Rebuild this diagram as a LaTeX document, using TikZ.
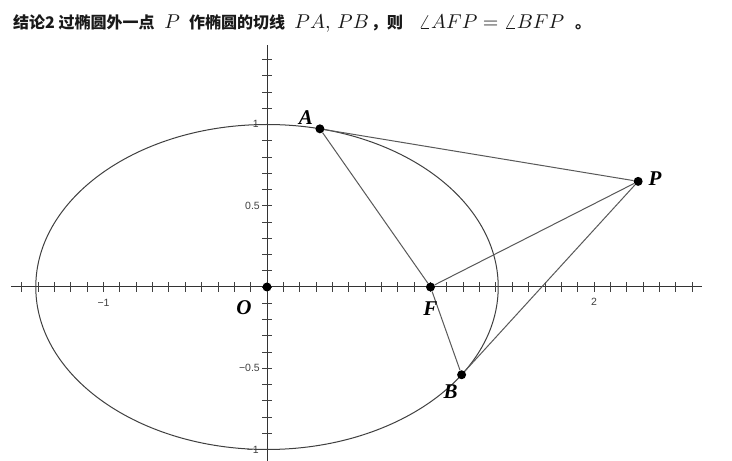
\documentclass[tikz,border=0pt]{standalone}
\usepackage{fontspec}
\newfontfamily\cjk{Noto Sans CJK SC}
\newfontfamily\lblfont{Liberation Serif}
\newfontfamily\tickfont{Liberation Sans}
\begin{document}
\begin{tikzpicture}[x=1pt,y=1pt,
  axisline/.style={draw=black!80, line width=1pt},
  tickline/.style={draw=black!75, line width=0.85pt},
  curve/.style={draw=black!75, line width=1pt},
  seg/.style={draw=black!65, line width=1pt},
  dot/.style={circle, fill=black, inner sep=0pt, minimum size=9pt},
  ptlabel/.style={font=\fontsize{21}{21}\selectfont\lblfont\bfseries\itshape, inner sep=0pt},
  ticklabel/.style={font=\fontsize{10.5}{11}\selectfont\tickfont, text=black!75, inner sep=0pt},
  ttxt/.style={anchor=base west, inner sep=0pt, text=black!90, font=\fontsize{16}{16}\selectfont\cjk\bfseries},
  tmath/.style={anchor=base west, inner sep=0pt, text=black!90, font=\fontsize{10}{10}\selectfont, scale=2}]
\useasboundingbox (0,0) rectangle (732,461);
\fill[white] (0,0) rectangle (732,461);
\node[ttxt] (t1) at (13,432.5) {结论2 过椭圆外一点};
\node[tmath] (t2) at (164,432.5) {$P$};
\node[ttxt] (t3) at (189,432.5) {作椭圆的切线};
\node[tmath] (t4) at (294,432.5) {$PA,\,PB$};
\node[ttxt] (t5) at (371,432.5) {，则};
\node[tmath] (t6) at (418,432.5) {$\angle AFP=\angle BFP$};
\node[ttxt] (t7) at (575,432.5) {。};
\begin{scope}[shift={(267,174)}, x=163.5pt, y=162.5pt]
  \draw[axisline] (-1.565,0) -- (2.66,0);
  \draw[axisline] (0,-1.08) -- (0,1.49);
  \foreach \i in {-15,...,26} \draw[tickline] (\i/10,0) ++(0,-5pt) -- ++(0,10pt);
  \foreach \i in {-10,...,14} \draw[tickline] (0,\i/10) ++(-5pt,0) -- ++(10pt,0);
  \node[ticklabel] (tm1) at ([yshift=-16pt]-1,0) {−1};
  \node[ticklabel] (t2x) at ([yshift=-15pt]2,0) {2};
  \node[ticklabel, anchor=east] (t05) at ([xshift=-7pt]0,0.5) {0.5};
  \node[ticklabel, anchor=east] (tm05) at ([xshift=-7pt]0,-0.5) {−0.5};
  \node[ticklabel, anchor=east] (ty1) at ([xshift=-8pt,yshift=1pt]0,1) {1};
  \node[ticklabel, anchor=east] (tym1) at ([xshift=-8pt]0,-1) {−1};
  \draw[curve] (0,0) ellipse [x radius=1.41421, y radius=1];
  \node[dot] (O) at (0,0) {};
  \node[dot] (F) at (1,0) {};
  \node[dot] (P) at (2.27,0.65) {};
  \node[dot] (A) at (0.3236,0.9734) {};
  \node[dot] (B) at (1.1903,-0.5400) {};
  \draw[seg] (A) -- (P);
  \draw[seg] (P) -- (B);
  \draw[seg] (A) -- (F);
  \draw[seg] (F) -- (B);
  \draw[seg] (F) -- (P);
  \node[ptlabel] (lA) at ([xshift=-14pt,yshift=11pt]A) {A};
  \node[ptlabel] (lO) at ([xshift=-23pt,yshift=-21pt]O) {O};
  \node[ptlabel] (lF) at ([xshift=0pt,yshift=-22pt]F) {F};
  \node[ptlabel] (lB) at ([xshift=-11pt,yshift=-17pt]B) {B};
  \node[ptlabel] (lP) at ([xshift=17pt,yshift=3pt]P) {P};
\end{scope}
\end{tikzpicture}
\end{document}
